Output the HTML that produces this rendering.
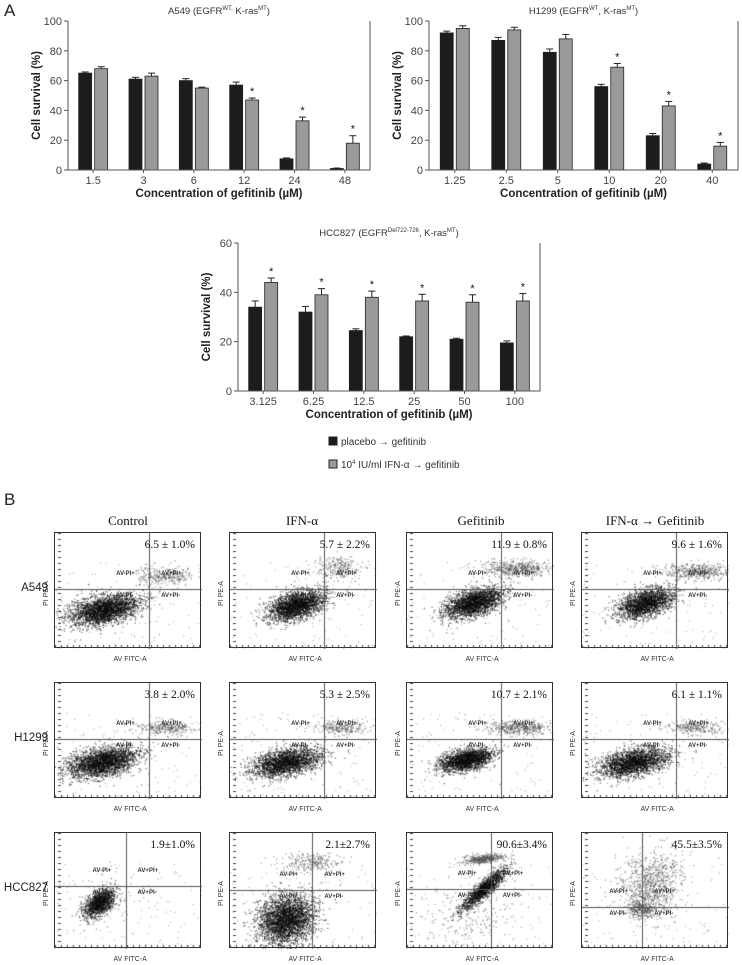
<!DOCTYPE html>
<html><head><meta charset="utf-8">
<style>
body{margin:0;background:#fff;width:742px;height:965px;position:relative;overflow:hidden;font-family:"Liberation Sans",sans-serif;}
.abs{position:absolute}
.flow{position:absolute;border:1px solid #333;box-sizing:border-box;background:#fff}
.flow canvas{position:absolute;left:0;top:0}
.pct{position:absolute;font-family:"Liberation Serif",serif;font-size:11.5px;color:#111;white-space:nowrap}
.hdr{position:absolute;font-family:"Liberation Serif",serif;font-size:13px;color:#111;white-space:nowrap;transform:translateX(-50%)}
.row{position:absolute;font-size:11.5px;color:#222;text-align:right;width:50px}
.ax{position:absolute;font-size:6px;color:#333;white-space:nowrap}
</style></head>
<body>
<svg id="charts" class="abs" style="left:0;top:0" width="742" height="480"></svg>
<div class="abs" style="left:4px;top:1px;font-size:17px;color:#222">A</div>
<div class="abs" style="left:4px;top:490px;font-size:17px;color:#222">B</div>
<div id="flows"></div>
<script>
const NS="http://www.w3.org/2000/svg";
const svg=document.getElementById('charts');
function el(t,a,p){const e=document.createElementNS(NS,t);for(const k in a)e.setAttribute(k,a[k]);(p||svg).appendChild(e);return e;}

const a549Cats=["1.5","3","6","12","24","48"];
const a549Black=[65,61,60,57,7.5,1];
const a549BlackErr=[0.8,1.2,1.3,2,0.6,0.3];
const a549Grey=[68,63,55,47,33,18];
const a549GreyErr=[1.3,2,0.6,1.3,2.5,5];
const a549Star=[0,0,0,1,1,1];
const a549Ticks=[0,20,40,60,80,100];

const h1299Cats=["1.25","2.5","5","10","20","40"];
const h1299Black=[92,87,79,56,23,4];
const h1299BlackErr=[1.2,2,2.2,1.5,1.5,0.7];
const h1299Grey=[95,94,88,69,43,16];
const h1299GreyErr=[1.8,1.8,3,2.5,3,2.5];
const h1299Star=[0,0,0,1,1,1];
const h1299Ticks=[0,20,40,60,80,100];

const hccCats=["3.125","6.25","12.5","25","50","100"];
const hccBlack=[34,32,24.5,22,21,19.5];
const hccBlackErr=[2.5,2.3,0.7,0.3,0.4,0.8];
const hccGrey=[44,39,38,36.5,36,36.5];
const hccGreyErr=[1.8,2.5,2.5,2.7,3,3];
const hccStar=[1,1,1,1,1,1];
const hccTicks=[0,20,40,60];

function chart(name,L,R,T,B,ymax,cats,bk,bkE,gr,grE,star,ticks,titleHTML){
  const g=el('g',{});
  const y=v=>B-(v/ymax)*(B-T);
  const gw=(R-L)/cats.length;
  const x=i=>L+gw*(i+0.5);
  const bw=13;
  const t=el('text',{x:(L+R)/2,y:T-7,'text-anchor':'middle','font-size':'9.5','fill':'#333'},g);
  
  t.innerHTML=titleHTML;
  ticks.forEach(v=>{
    el('line',{x1:L-4,x2:L,y1:y(v),y2:y(v),stroke:'#555','stroke-width':1},g);
    const tt=el('text',{x:L-6,y:y(v)+4,'text-anchor':'end','font-size':'11','fill':'#444'},g);
    tt.textContent=v;
  });
  function bar(cx,v,e,fill,st){
    const r=el('rect',{x:cx-bw/2,y:y(v),width:bw,height:B-y(v),fill:fill,stroke:'#222','stroke-width':0.8},g);
    
    el('line',{x1:cx,x2:cx,y1:y(v),y2:y(v+e),stroke:'#222','stroke-width':1},g);
    el('line',{x1:cx-3.5,x2:cx+3.5,y1:y(v+e),y2:y(v+e),stroke:'#222','stroke-width':1},g);
    if(st){const s=el('text',{x:cx,y:y(v+e)-3,'text-anchor':'middle','font-size':'11','fill':'#111'},g);s.textContent='*';}
  }
  cats.forEach((c,i)=>{
    bar(x(i)-8,bk[i],bkE[i],'#1c1c1c',false);
    bar(x(i)+8,gr[i],grE[i],'#9a9a9a',star[i]);
    el('line',{x1:x(i),x2:x(i),y1:B,y2:B+3,stroke:'#555'},g);
    const tl=el('text',{x:x(i),y:B+14,'text-anchor':'middle','font-size':'11','fill':'#444'},g);
    tl.textContent=c;
  });
  el('path',{d:`M${L} ${T}V${B}H${R}V${T}`,fill:'none',stroke:'#555','stroke-width':1},g);
  const xt=el('text',{x:(L+R)/2,y:B+27,'text-anchor':'middle','font-size':'11.5','font-weight':'bold','fill':'#222'},g);
  xt.textContent='Concentration of gefitinib (µM)';
  const yt=el('text',{x:0,y:0,'text-anchor':'middle','font-size':'11.5','font-weight':'bold','fill':'#222',transform:`translate(${L-28},${(T+B)/2}) rotate(-90)`},g);
  yt.textContent='Cell survival (%)';
}
chart('a549-chart',68,370,21,170,100,a549Cats,a549Black,a549BlackErr,a549Grey,a549GreyErr,a549Star,a549Ticks,'A549 (EGFR<tspan font-size="6" dy="-4">WT,</tspan><tspan dy="4"> K-ras</tspan><tspan font-size="6" dy="-4">MT</tspan><tspan dy="4">)</tspan>');
chart('h1299-chart',429,738,21,170,100,h1299Cats,h1299Black,h1299BlackErr,h1299Grey,h1299GreyErr,h1299Star,h1299Ticks,'H1299 (EGFR<tspan font-size="6" dy="-4">WT</tspan><tspan dy="4">, K-ras</tspan><tspan font-size="6" dy="-4">MT</tspan><tspan dy="4">)</tspan>');
chart('hcc827-chart',238,540,243,391,60,hccCats,hccBlack,hccBlackErr,hccGrey,hccGreyErr,hccStar,hccTicks,'HCC827 (EGFR<tspan font-size="6" dy="-4">Del722-726</tspan><tspan dy="4">, K-ras</tspan><tspan font-size="6" dy="-4">MT</tspan><tspan dy="4">)</tspan>');
const lg=el('g',{});
el('rect',{x:329,y:437,width:8,height:8,fill:'#1c1c1c',stroke:'#222'},lg);
let lt=el('text',{x:341,y:445,'font-size':'10','fill':'#333'},lg);lt.textContent='placebo → gefitinib';
el('rect',{x:329,y:460,width:8,height:8,fill:'#9a9a9a',stroke:'#222'},lg);
lt=el('text',{x:341,y:468,'font-size':'10','fill':'#333'},lg);lt.innerHTML='10<tspan font-size="6" dy="-4">4</tspan><tspan dy="4"> IU/ml IFN-α → gefitinib</tspan>';

const colX=[54,229,406,581];
const rowY=[532,682,832];
const colHdr=["Control","IFN-α","Gefitinib","IFN-α → Gefitinib"];
const colHdrX=[128,302,481,655];
const rowLbl=["A549","H1299","HCC827"];
const pcts=[["6.5 ± 1.0%","5.7 ± 2.2%","11.9 ± 0.8%","9.6 ± 1.6%"],["3.8 ± 2.0%","5.3 ± 2.5%","10.7 ± 2.1%","6.1 ± 1.1%"],["1.9±1.0%","2.1±2.7%","90.6±3.4%","45.5±3.5%"]];
const gates=[[[.64,.48],[.64,.48],[.64,.48],[.64,.48]],[[.64,.48],[.64,.48],[.64,.48],[.64,.48]],[[.48,.46],[.56,.49],[.57,.48],[.41,.64]]];
const clouds=[
 [[[.33,.66,.12,.06,2600,-.2],[.75,.36,.1,.04,300,0]],[[.45,.62,.1,.055,2300,-.3],[.72,.3,.08,.05,250,0]],[[.45,.6,.1,.055,2300,-.3],[.75,.3,.12,.035,500,0]],[[.43,.6,.1,.055,2000,-.3],[.78,.33,.12,.035,450,0]]],
 [[[.32,.68,.12,.06,2600,-.2],[.75,.38,.1,.03,300,0]],[[.38,.68,.12,.055,2300,-.2],[.75,.38,.1,.03,250,0]],[[.4,.66,.09,.045,2000,-.2],[.76,.38,.12,.03,450,0]],[[.35,.68,.12,.055,2300,-.2],[.76,.38,.1,.03,250,0]]],
 [[[.3,.6,.06,.045,1300,-.7],[.35,.55,.12,.12,80,0]],[[.38,.74,.1,.1,3000,-.4],[.55,.25,.1,.04,250,0]],[[.52,.48,.1,.03,1400,-.75],[.52,.22,.07,.02,400,-.1],[.4,.7,.15,.15,200,0]],[[.4,.66,.04,.035,250,0],[.45,.5,.1,.12,700,-.4],[.5,.3,.1,.1,250,0]]]
];
let seed=12345;
function rnd(){seed=(seed*1103515245+12345)&0x7fffffff;return seed/0x7fffffff;}
function gauss(){let u=rnd()||1e-6,v=rnd();return Math.sqrt(-2*Math.log(u))*Math.cos(2*Math.PI*v);}
const root=document.getElementById('flows');
colHdr.forEach((h,i)=>{const d=document.createElement('div');d.className='hdr';d.style.left=colHdrX[i]+'px';d.style.top='513px';d.textContent=h;
root.appendChild(d);});
const W=147,H=116;
for(let r=0;r<3;r++)for(let c=0;c<4;c++){
  const b=document.createElement('div');b.className='flow';
  b.style.left=colX[c]+'px';b.style.top=rowY[r]+'px';b.style.width=W+'px';b.style.height=H+'px';
  
  const cv=document.createElement('canvas');cv.width=W;cv.height=H;b.appendChild(cv);
  const ctx=cv.getContext('2d');
  ctx.fillStyle='rgba(60,60,60,0.5)';
  for(let k=0;k<120;k++){ctx.fillRect(rnd()*W,H*0.25+rnd()*H*0.75,1,1);}
  clouds[r][c].forEach(cl=>{
    const [cx,cy,sx,sy,n,rot]=cl;const cs=Math.cos(rot),sn=Math.sin(rot);
    for(let k=0;k<n;k++){const a=gauss()*sx*W,bb=gauss()*sy*H;
      const px=cx*W+a*cs-bb*sn,py=cy*H+a*sn+bb*cs;
      ctx.fillStyle=n>1000?'rgba(10,10,10,0.6)':'rgba(70,70,70,0.55)';ctx.fillRect(px,py,1.2,1.2);}
  });
  const [vx,hy]=gates[r][c];
  ctx.fillStyle='#555';ctx.fillRect(Math.round(vx*W),0,1,H);ctx.fillRect(0,Math.round(hy*H),W,1);
  ctx.fillStyle='#444';for(let k=0;k<W;k+=6)ctx.fillRect(k,H-4,1,3);for(let k=0;k<H;k+=6)ctx.fillRect(3,k,3,1);
  const p=document.createElement('div');p.className='pct';p.style.right='5px';p.style.top='6px';p.textContent=pcts[r][c];
  b.appendChild(p);
  const q=[["AV-PI+",vx*W-33,hy*H-18],["AV+PI+",vx*W+12,hy*H-18],["AV-PI-",vx*W-33,hy*H+4],["AV+PI-",vx*W+12,hy*H+4]];
  q.forEach(t=>{const s=document.createElement('div');s.className='ax';s.style.left=t[1]+'px';s.style.top=t[2]+'px';s.style.fontWeight='bold';s.textContent=t[0];
    b.appendChild(s);});
  root.appendChild(b);
  const xl=document.createElement('div');xl.className='ax';xl.style.left=(colX[c]+W/2-14)+'px';xl.style.top=(rowY[r]+H+8)+'px';xl.style.fontSize='7px';xl.textContent='AV FITC-A';
  root.appendChild(xl);
  const yl=document.createElement('div');yl.className='ax';yl.style.left=(colX[c]-20)+'px';yl.style.top=(rowY[r]+H/2)+'px';yl.style.fontSize='7px';yl.style.transform='rotate(-90deg)';yl.textContent='PI PE-A';
  root.appendChild(yl);
}
rowLbl.forEach((r,i)=>{const d=document.createElement('div');d.className='row';d.style.left='-2px';d.style.top=(rowY[i]+50)+'px';d.textContent=r;
root.appendChild(d);});
</script>
</body></html>
